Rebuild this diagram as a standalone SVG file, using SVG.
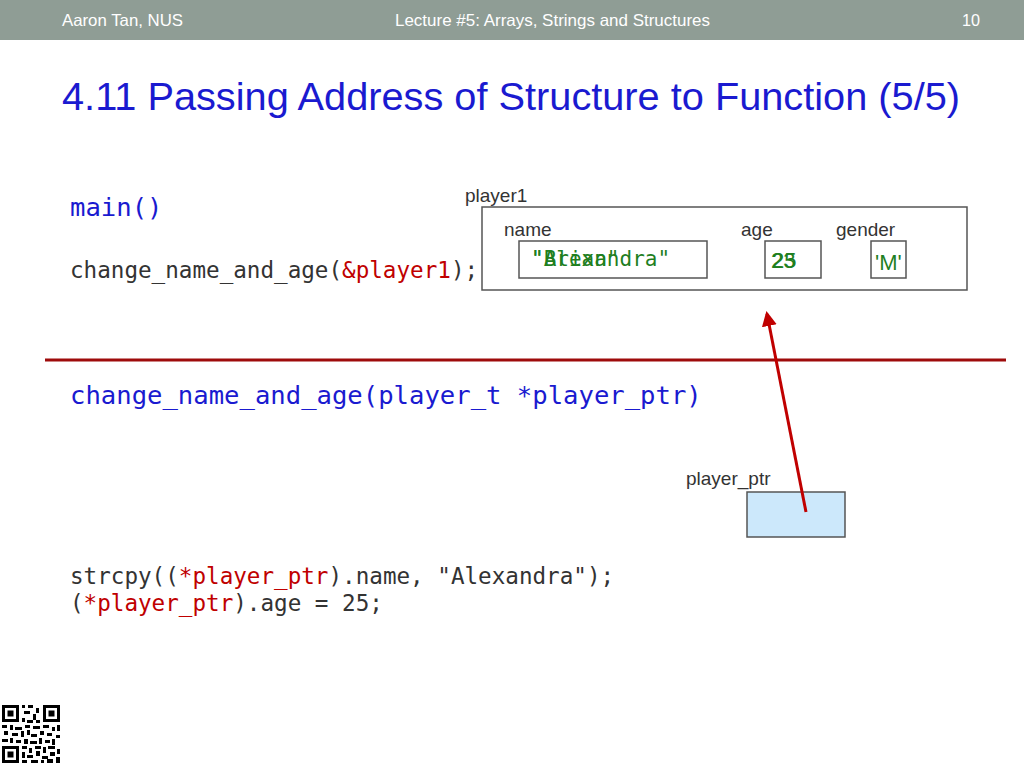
<svg xmlns="http://www.w3.org/2000/svg" width="1024" height="768" viewBox="0 0 1024 768">
<defs>
<style>
.hdr{font-family:"Liberation Sans",Arial,sans-serif;font-size:16.5px;fill:#ffffff}
.lbl{font-family:"Liberation Sans",Arial,sans-serif;font-size:19px;fill:#333333}
.code{font-family:"DejaVu Sans Mono","Liberation Mono",monospace;font-size:22.6px;fill:#333333}
.big{font-family:"DejaVu Sans Mono","Liberation Mono",monospace;font-size:25.6px;fill:#1a1ad0}
.red{fill:#c00000}
.val{font-family:"DejaVu Sans Mono","Liberation Mono",monospace;font-size:21px;fill:#1f7f1f}
.num{font-family:"Liberation Sans",Arial,sans-serif;font-size:22px;fill:#1f7f1f}
.box{fill:#ffffff;stroke:#555555;stroke-width:1.5}
</style>
<marker id="ah" viewBox="0 0 10 10" refX="8" refY="5" markerWidth="5" markerHeight="5" orient="auto">
<path d="M0,0 L10,5 L0,10 z" fill="#c00000"/>
</marker>
</defs>
<rect width="1024" height="768" fill="#ffffff"/>
<g id="header">
<rect x="0" y="0" width="1024" height="40" fill="#8f9d95"/>
<text class="hdr" x="62" y="26" textLength="121" lengthAdjust="spacingAndGlyphs">Aaron Tan, NUS</text>
<text class="hdr" x="395" y="26" textLength="315" lengthAdjust="spacingAndGlyphs">Lecture #5: Arrays, Strings and Structures</text>
<text class="hdr" x="962" y="26" textLength="18" lengthAdjust="spacingAndGlyphs">10</text>
</g>
<text x="62" y="110" font-family="Liberation Sans,Arial,sans-serif" font-size="38" fill="#1a1ad0" textLength="898" lengthAdjust="spacingAndGlyphs">4.11 Passing Address of Structure to Function (5/5)</text>
<g id="code">
<text class="big" x="70" y="216">main()</text>
<text class="code" x="70" y="278">change_name_and_age(<tspan class="red">&amp;player1</tspan>);</text>
<text class="big" x="70" y="404">change_name_and_age(player_t *player_ptr)</text>
<text class="code" x="70" y="584">strcpy((<tspan class="red">*player_ptr</tspan>).name, "Alexandra");</text>
<text class="code" x="70" y="611">(<tspan class="red">*player_ptr</tspan>).age = 25;</text>
</g>
<g id="player1">
<text class="lbl" x="465" y="202">player1</text>
<rect class="box" x="482" y="207" width="485" height="83"/>
<text class="lbl" x="504" y="236">name</text>
<text class="lbl" x="741" y="236">age</text>
<text class="lbl" x="836" y="236">gender</text>
<rect class="box" x="519" y="241" width="188" height="37"/>
<text class="val" x="531" y="266">"Brian"</text>
<text class="val" x="531" y="266">"Alexandra"</text>
<rect class="box" x="765" y="241" width="56" height="37"/>
<text class="num" x="771" y="268">23</text>
<text class="num" x="772" y="268">25</text>
<rect class="box" x="871" y="241" width="35" height="37"/>
<text class="num" x="875" y="270">'M'</text>
</g>
<g id="player_ptr">
<text class="lbl" x="686" y="485">player_ptr</text>
<rect x="747" y="492" width="98" height="45" fill="#cce8fb" stroke="#555555" stroke-width="1.5"/>
</g>
<g id="connectors">
<line x1="45" y1="360" x2="1006" y2="360" stroke="#9e0b0b" stroke-width="3"/>
<line x1="806" y1="512" x2="767" y2="314" stroke="#c00000" stroke-width="3" marker-end="url(#ah)"/>
</g>
<g id="qr" fill="#000000">
<rect x="0" y="703" width="62" height="62" fill="#ffffff"/>
<path d="M2,705h17v17h-17z M5,708v11h11v-11z M7.5,710.5h6v6h-6z" fill-rule="evenodd"/>
<path d="M43,705h17v17h-17z M46,708v11h11v-11z M48.5,710.5h6v6h-6z" fill-rule="evenodd"/>
<path d="M2,746h17v17h-17z M5,749v11h11v-11z M7.5,751.5h6v6h-6z" fill-rule="evenodd"/>
<path d="M22,705h3v3h-3z M28,705h5v3h-5z M36,708h3v5h-3z M24,711h6v3h-6z M33,714h3v6h-3z M22,718h3v4h-3z M27,720h6v3h-6z M36,720h4v3h-4z M2,725h5v3h-5z M10,725h3v5h-3z M15,727h7v3h-7z M25,725h5v3h-5z M33,726h7v3h-7z M43,725h6v3h-6z M52,727h3v4h-3z M57,725h3v6h-3z M4,731h4v4h-4z M12,733h6v3h-6z M21,731h3v6h-3z M27,730h3v5h-3z M31,734h6v3h-6z M40,731h4v4h-4z M47,733h5v3h-5z M56,735h4v3h-4z M2,739h6v3h-6z M10,738h3v5h-3z M16,740h5v3h-5z M24,739h4v5h-4z M30,741h7v3h-7z M39,738h3v6h-3z M45,740h5v3h-5z M52,739h3v6h-3z M22,746h5v3h-5z M29,748h3v5h-3z M35,746h6v3h-6z M43,747h3v6h-3z M48,746h7v3h-7z M57,749h3v5h-3z M22,752h3v6h-3z M27,755h6v3h-6z M36,751h4v5h-4z M42,756h6v3h-6z M50,752h5v4h-5z M22,760h5v3h-5z M31,760h7v3h-7z M41,760h3v3h-3z M47,759h6v4h-6z M56,757h4v6h-4z"/>
</g>
</svg>
